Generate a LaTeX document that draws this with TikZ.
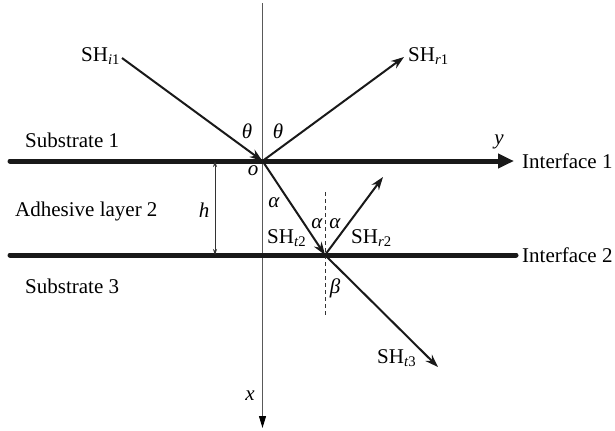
\documentclass[tikz,border=0pt]{standalone}
\usepackage{fontspec}
\setmainfont{Liberation Serif}
\usetikzlibrary{arrows.meta}
\begin{document}
\begin{tikzpicture}[x=1bp,y=-1bp,
  lbl/.style={font=\fontsize{21bp}{23bp}\selectfont, inner sep=0pt},
  gk/.style={font=\fontsize{21bp}{23bp}\selectfont\itshape, inner sep=0pt},
  iface/.style={line width=5bp, black!90},
  ray/.style={line width=2bp, black!90, -{Stealth[length=13bp,width=9bp]}},
  axis/.style={line width=1bp, black!65},
  dim/.style={line width=0.8bp, black!80, {Stealth[length=6bp,width=4bp]}-{Stealth[length=6bp,width=4bp]}}]
\useasboundingbox (0,0) rectangle (615,430);
% coordinates
\coordinate (O) at (262.5,161);
\coordinate (P) at (325,255);
\coordinate (axTop) at (262.5,3);
\coordinate (axBot) at (262.5,428);
\coordinate (I1L) at (10,161);
\coordinate (I1R) at (514,161);
\coordinate (I2L) at (10,255);
\coordinate (I2R) at (516,255);
\coordinate (inS) at (122,58);
\coordinate (r1E) at (404,57);
\coordinate (r2E) at (383,177);
\coordinate (t3E) at (438,367);
\coordinate (dT) at (325,192);
\coordinate (dB) at (325,318);
\coordinate (hT) at (215,161);
\coordinate (hB) at (215,255);
% axis
\draw[axis, -{Triangle[length=12bp,width=7bp,color=black]}] (axTop) -- (axBot);
% interfaces
\draw[iface, line cap=round, -{Triangle[length=16bp,width=14bp]}] (I1L) -- (I1R);
\draw[iface, line cap=round] (I2L) -- (I2R);
% dashed normal
\draw[line width=0.8bp, dashed, dash pattern=on 4bp off 3bp, black!80] (dT) -- (dB);
% h dimension
\draw[dim] (hT) -- (hB);
% rays
\draw[ray] (inS) -- (O);
\draw[ray] (O) -- (r1E);
\draw[ray] (O) -- (P);
\draw[ray] (P) -- (r2E);
\draw[ray] (P) -- (t3E);
% labels
\node[lbl, anchor=west] (lsi1) at (81,56) {SH\textsubscript{\textit{i}1}};
\node[lbl, anchor=west] (lsr1) at (408,56) {SH\textsubscript{\textit{r}1}};
\node[lbl, anchor=west] (lst2) at (267,238) {SH\textsubscript{\textit{t}2}};
\node[lbl, anchor=west] (lsr2) at (351,238) {SH\textsubscript{\textit{r}2}};
\node[lbl, anchor=west] (lst3) at (377,358) {SH\textsubscript{\textit{t}3}};
\node[gk] (th1) at (247,131) {θ};
\node[gk] (th2) at (278,131) {θ};
\node[gk] (lo) at (253,171) {o};
\node[gk] (al1) at (274,203) {α};
\node[gk] (al2) at (317,224) {α};
\node[gk] (al3) at (335,224) {α};
\node[gk] (be) at (335,288) {β};
\node[gk] (lh) at (204,210) {h};
\node[gk] (ly) at (499,142) {y};
\node[gk] (lx) at (250,396) {x};
\node[lbl, anchor=west] (s1) at (25,140) {Substrate 1};
\node[lbl, anchor=west] (s2) at (15,211) {Adhesive layer 2};
\node[lbl, anchor=west] (s3) at (25,286) {Substrate 3};
\node[lbl, anchor=west] (if1) at (522,161) {Interface 1};
\node[lbl, anchor=west] (if2) at (522,255) {Interface 2};
\end{tikzpicture}
\end{document}
